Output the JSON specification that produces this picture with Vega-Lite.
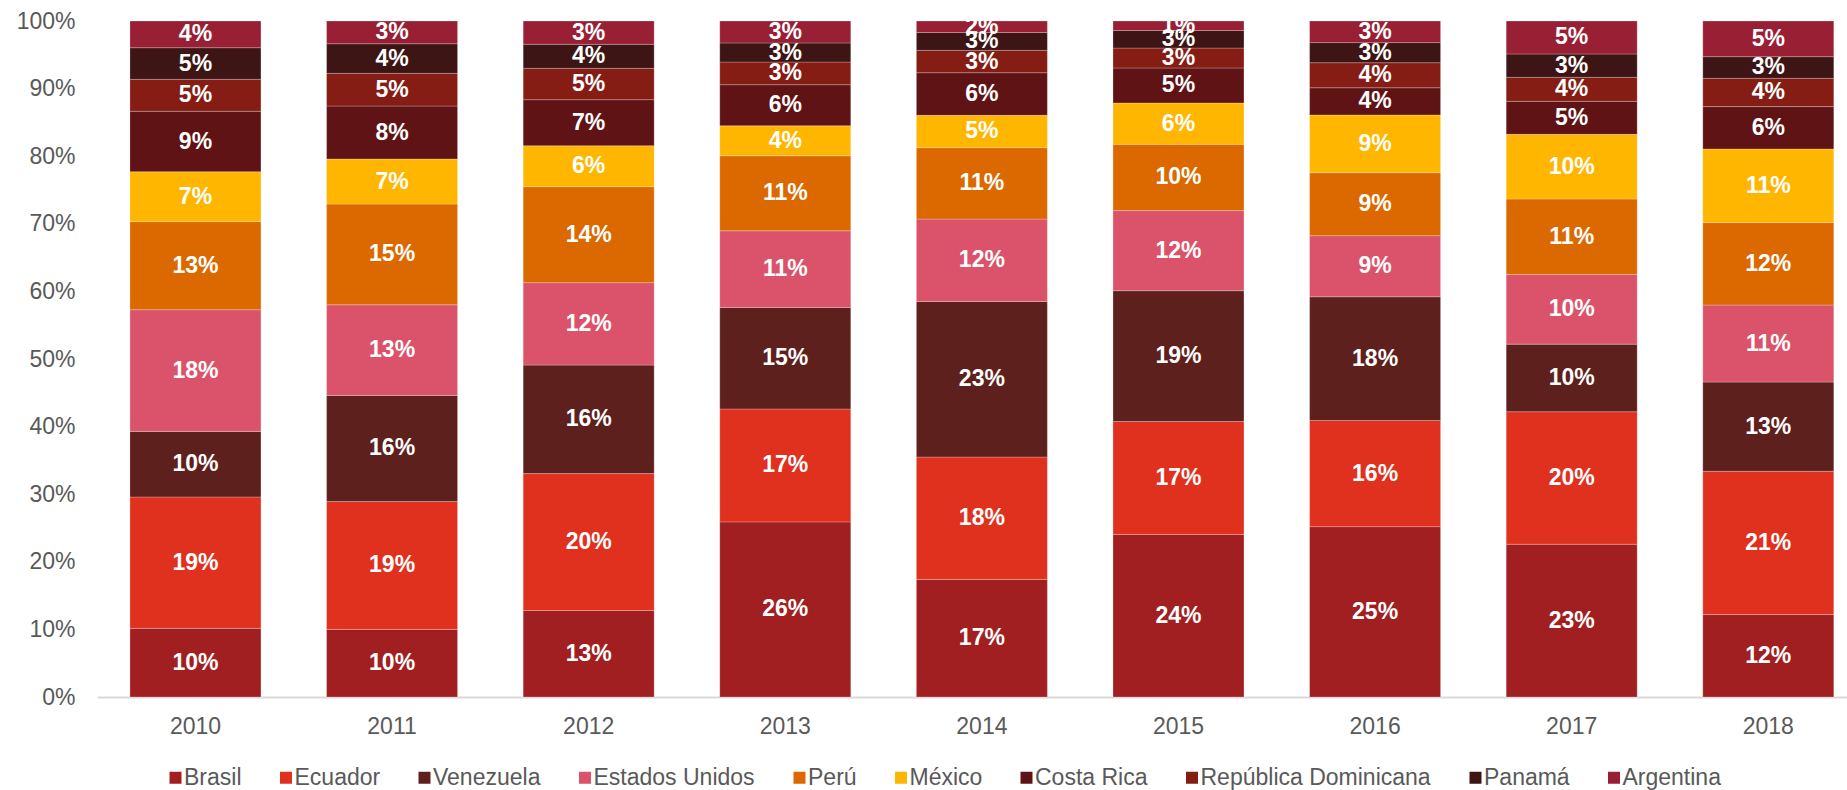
{
  "$schema": "https://vega.github.io/schema/vega-lite/v6.json",
  "autosize": {"type": "none"},
  "width": 1750,
  "height": 676,
  "padding": {"left": 97, "top": 21, "right": 0, "bottom": 93},
  "background": "white",
  "config": {
    "view": {"stroke": null},
    "font": "Liberation Sans"
  },
  "data": {
    "values": [
      {"year": "2010", "country": "Brasil", "v": 0.1016},
      {"year": "2010", "country": "Ecuador", "v": 0.1944},
      {"year": "2010", "country": "Venezuela", "v": 0.097},
      {"year": "2010", "country": "Estados Unidos", "v": 0.18},
      {"year": "2010", "country": "Perú", "v": 0.1303},
      {"year": "2010", "country": "México", "v": 0.0739},
      {"year": "2010", "country": "Costa Rica", "v": 0.0894},
      {"year": "2010", "country": "República Dominicana", "v": 0.0473},
      {"year": "2010", "country": "Panamá", "v": 0.0468},
      {"year": "2010", "country": "Argentina", "v": 0.0395},

      {"year": "2011", "country": "Brasil", "v": 0.100},
      {"year": "2011", "country": "Ecuador", "v": 0.189},
      {"year": "2011", "country": "Venezuela", "v": 0.157},
      {"year": "2011", "country": "Estados Unidos", "v": 0.134},
      {"year": "2011", "country": "Perú", "v": 0.149},
      {"year": "2011", "country": "México", "v": 0.0666},
      {"year": "2011", "country": "Costa Rica", "v": 0.0784},
      {"year": "2011", "country": "República Dominicana", "v": 0.0483},
      {"year": "2011", "country": "Panamá", "v": 0.0438},
      {"year": "2011", "country": "Argentina", "v": 0.0336},

      {"year": "2012", "country": "Brasil", "v": 0.128},
      {"year": "2012", "country": "Ecuador", "v": 0.2025},
      {"year": "2012", "country": "Venezuela", "v": 0.1605},
      {"year": "2012", "country": "Estados Unidos", "v": 0.122},
      {"year": "2012", "country": "Perú", "v": 0.142},
      {"year": "2012", "country": "México", "v": 0.0606},
      {"year": "2012", "country": "Costa Rica", "v": 0.0681},
      {"year": "2012", "country": "República Dominicana", "v": 0.0464},
      {"year": "2012", "country": "Panamá", "v": 0.0355},
      {"year": "2012", "country": "Argentina", "v": 0.0345},

      {"year": "2013", "country": "Brasil", "v": 0.259},
      {"year": "2013", "country": "Ecuador", "v": 0.167},
      {"year": "2013", "country": "Venezuela", "v": 0.15},
      {"year": "2013", "country": "Estados Unidos", "v": 0.1135},
      {"year": "2013", "country": "Perú", "v": 0.111},
      {"year": "2013", "country": "México", "v": 0.0443},
      {"year": "2013", "country": "Costa Rica", "v": 0.0608},
      {"year": "2013", "country": "República Dominicana", "v": 0.0335},
      {"year": "2013", "country": "Panamá", "v": 0.0282},
      {"year": "2013", "country": "Argentina", "v": 0.0325},

      {"year": "2014", "country": "Brasil", "v": 0.174},
      {"year": "2014", "country": "Ecuador", "v": 0.181},
      {"year": "2014", "country": "Venezuela", "v": 0.23},
      {"year": "2014", "country": "Estados Unidos", "v": 0.122},
      {"year": "2014", "country": "Perú", "v": 0.1056},
      {"year": "2014", "country": "México", "v": 0.0479},
      {"year": "2014", "country": "Costa Rica", "v": 0.063},
      {"year": "2014", "country": "República Dominicana", "v": 0.0331},
      {"year": "2014", "country": "Panamá", "v": 0.0264},
      {"year": "2014", "country": "Argentina", "v": 0.017},

      {"year": "2015", "country": "Brasil", "v": 0.2405},
      {"year": "2015", "country": "Ecuador", "v": 0.167},
      {"year": "2015", "country": "Venezuela", "v": 0.1935},
      {"year": "2015", "country": "Estados Unidos", "v": 0.1185},
      {"year": "2015", "country": "Perú", "v": 0.098},
      {"year": "2015", "country": "México", "v": 0.0612},
      {"year": "2015", "country": "Costa Rica", "v": 0.0518},
      {"year": "2015", "country": "República Dominicana", "v": 0.0295},
      {"year": "2015", "country": "Panamá", "v": 0.026},
      {"year": "2015", "country": "Argentina", "v": 0.014},

      {"year": "2016", "country": "Brasil", "v": 0.252},
      {"year": "2016", "country": "Ecuador", "v": 0.157},
      {"year": "2016", "country": "Venezuela", "v": 0.183},
      {"year": "2016", "country": "Estados Unidos", "v": 0.0904},
      {"year": "2016", "country": "Perú", "v": 0.0932},
      {"year": "2016", "country": "México", "v": 0.0854},
      {"year": "2016", "country": "Costa Rica", "v": 0.0403},
      {"year": "2016", "country": "República Dominicana", "v": 0.037},
      {"year": "2016", "country": "Panamá", "v": 0.0297},
      {"year": "2016", "country": "Argentina", "v": 0.032},

      {"year": "2017", "country": "Brasil", "v": 0.226},
      {"year": "2017", "country": "Ecuador", "v": 0.196},
      {"year": "2017", "country": "Venezuela", "v": 0.100},
      {"year": "2017", "country": "Estados Unidos", "v": 0.103},
      {"year": "2017", "country": "Perú", "v": 0.1117},
      {"year": "2017", "country": "México", "v": 0.0956},
      {"year": "2017", "country": "Costa Rica", "v": 0.0489},
      {"year": "2017", "country": "República Dominicana", "v": 0.0355},
      {"year": "2017", "country": "Panamá", "v": 0.0345},
      {"year": "2017", "country": "Argentina", "v": 0.0488},

      {"year": "2018", "country": "Brasil", "v": 0.122},
      {"year": "2018", "country": "Ecuador", "v": 0.212},
      {"year": "2018", "country": "Venezuela", "v": 0.132},
      {"year": "2018", "country": "Estados Unidos", "v": 0.114},
      {"year": "2018", "country": "Perú", "v": 0.122},
      {"year": "2018", "country": "México", "v": 0.109},
      {"year": "2018", "country": "Costa Rica", "v": 0.0626},
      {"year": "2018", "country": "República Dominicana", "v": 0.0419},
      {"year": "2018", "country": "Panamá", "v": 0.032},
      {"year": "2018", "country": "Argentina", "v": 0.0528}
    ]
  },
  "transform": [
    {"calculate": "indexof(['Brasil','Ecuador','Venezuela','Estados Unidos','Perú','México','Costa Rica','República Dominicana','Panamá','Argentina'], datum.country)", "as": "k"},
    {"stack": "v", "groupby": ["year"], "sort": [{"field": "k", "order": "ascending"}], "offset": "normalize", "as": ["y0", "y1"]},
    {"calculate": "(datum.y0 + datum.y1) / 2", "as": "ym"}
  ],
  "encoding": {
    "x": {
      "field": "year",
      "type": "nominal",
      "scale": {"paddingInner": 0.3337, "paddingOuter": 0.1174, "align": 0.714},
      "axis": {
        "title": null,
        "labelAngle": 0,
        "labelFontSize": 23,
        "labelColor": "#595959",
        "labelPadding": 18,
        "ticks": false,
        "domainColor": "#D9D9D9",
        "domainWidth": 2,
        "grid": false
      }
    }
  },
  "layer": [
    {
      "mark": {"type": "bar", "stroke": "#ffffff", "strokeOpacity": 0.3, "strokeWidth": 0.8},
      "encoding": {
        "y": {
          "field": "y0",
          "type": "quantitative",
          "scale": {"domain": [0, 1], "nice": false},
          "axis": {
            "title": null,
            "format": ".0%",
            "values": [0, 0.1, 0.2, 0.3, 0.4, 0.5, 0.6, 0.7, 0.8, 0.9, 1],
            "labelFontSize": 23,
            "labelColor": "#595959",
            "labelPadding": 22,
            "ticks": false,
            "domain": false,
            "grid": false
          }
        },
        "y2": {"field": "y1"},
        "color": {
          "field": "country",
          "type": "nominal",
          "scale": {
            "domain": ["Brasil", "Ecuador", "Venezuela", "Estados Unidos", "Perú", "México", "Costa Rica", "República Dominicana", "Panamá", "Argentina"],
            "range": ["#A11F21", "#E0311E", "#5E201D", "#DB536A", "#DC6900", "#FFB600", "#601315", "#851D14", "#3C1514", "#991F35"]
          },
          "legend": {
            "title": null,
            "orient": "none",
            "legendX": 67,
            "legendY": 745,
            "direction": "horizontal",
            "columns": 10,
            "symbolType": "square",
            "symbolSize": 144,
            "symbolStrokeWidth": 0,
            "symbolOpacity": 1,
            "labelFontSize": 23,
            "labelColor": "#595959",
            "labelOffset": -3,
            "columnPadding": 32.5,
            "labelLimit": 400
          }
        }
      }
    },
    {
      "mark": {"type": "text", "color": "white", "fontSize": 23, "fontWeight": "bold", "baseline": "middle", "align": "center"},
      "encoding": {
        "y": {"field": "ym", "type": "quantitative"},
        "text": {"field": "v", "type": "quantitative", "format": ".0%"}
      }
    }
  ]
}
